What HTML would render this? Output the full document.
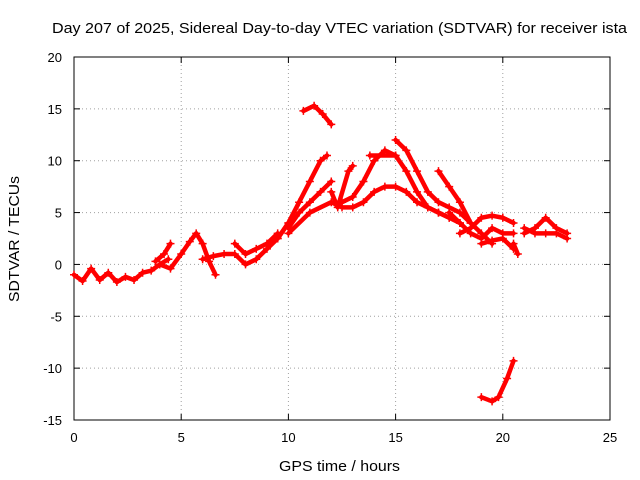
<!DOCTYPE html>
<html><head><meta charset="utf-8"><style>
body{margin:0;background:#fff}
svg{display:block;font-family:"Liberation Sans",sans-serif}
</style></head><body>
<svg id="chart" width="640" height="480">
<text x="339.5" y="33" font-size="15" text-anchor="middle" textLength="575" lengthAdjust="spacingAndGlyphs">Day 207 of 2025, Sidereal Day-to-day VTEC variation (SDTVAR) for receiver ista</text>
<text x="339.5" y="471" font-size="15" text-anchor="middle" textLength="121" lengthAdjust="spacingAndGlyphs">GPS time / hours</text>
<text transform="translate(19,239) rotate(-90)" font-size="15" text-anchor="middle" textLength="126" lengthAdjust="spacingAndGlyphs">SDTVAR / TECUs</text>
<g id="grid"></g><g id="axes"></g><g id="marks"></g>
</svg>
<script>
const xTicks=[0,5,10,15,25,20];
const yTicks=[-15,-10,-5,0,5,10,15,20];
const track1=[[0,-1],[0.4,-1.6],[0.8,-0.4],[1.2,-1.5],[1.6,-0.8],[2,-1.7],[2.4,-1.2],[2.8,-1.5],[3.2,-0.8],[3.6,-0.6],[4,0],[4.4,0.5]];
const track2=[[4,0],[4.5,-0.4],[5,1],[5.4,2.2],[5.7,3],[6,2],[6.3,0.3],[6.6,-1]];
const track3=[[3.8,0.3],[4.2,1],[4.5,2]];
const track4=[[6,0.5],[6.5,0.8],[7,1],[7.5,1],[8,0],[8.5,0.5],[9,1.5],[9.5,2.5],[10,4]];
const track5=[[7.5,2],[8,1],[8.5,1.5],[9,2],[9.5,3]];
const track6=[[9.5,2.5],[10,4],[10.5,6],[11,8],[11.5,10],[11.8,10.5]];
const track7=[[10,3.5],[10.5,5],[11,6],[11.5,7],[12,8]];
const track8=[[10,3],[11,5],[12,6],[12.5,5.5],[13,5.5],[13.5,6],[14,7],[14.5,7.5],[15,7.5],[15.5,7],[16,6],[16.5,5.5],[17,5],[17.5,4.5],[18,4]];
const track9=[[12,7],[12.3,5.5],[12.8,9],[13,9.5]];
const track10=[[12.5,6],[13,6.5],[13.5,8],[14,10],[14.5,11],[15,10.5]];
const track11=[[13.8,10.5],[15,10.5],[15.5,9],[16,7],[16.5,5.5],[17,5],[17.5,4.5]];
const track12=[[15,12],[15.5,11],[16,9],[16.5,7],[17,6],[17.5,5.5],[18,5],[18.5,4]];
const track13=[[17,9],[17.5,7.5],[18,6],[18.5,4],[19,3],[19.5,2]];
const track14=[[17.5,5],[18,4],[18.5,3],[19,2.5],[19.5,3.5],[20,3],[20.5,3]];
const track15=[[18,3],[18.5,3.5],[19,4.5],[19.5,4.7],[20,4.5],[20.5,4]];
const track16=[[19,2],[19.5,2.3],[20,2.5],[20.5,1.5]];
const track17=[[20.5,2],[20.7,1]];
const track18=[[21,3],[21.5,3.5],[22,4.5],[22.5,3.5],[23,3]];
const track19=[[21,3.5],[21.5,3],[22,3],[22.5,3],[23,2.5]];
const track20=[[10.7,14.8],[11.2,15.3],[11.6,14.5],[12,13.5]];
const track21=[[19,-12.8],[19.5,-13.2],[19.8,-12.8],[20.2,-11],[20.5,-9.3]];
const tracks=[track1,track2,track3,track4,track5,track6,track7,track8,track9,track10,track11,track12,track13,track14,track15,track16,track17,track18,track19,track20,track21];
const X0=74,X1=610,Y0=420,Y1=57;
const sx=v=>X0+(v-0)/25*(X1-X0);
const sy=v=>Y0-(v+15)/35*(Y0-Y1);
const NS="http://www.w3.org/2000/svg";
function mk(t,a,p){const e=document.createElementNS(NS,t);for(const k in a)e.setAttribute(k,a[k]);p.appendChild(e);return e;}
const grid=document.getElementById('grid'),axes=document.getElementById('axes'),marks=document.getElementById('marks');
xTicks.forEach(t=>{const x=sx(t);
 if(t>0&&t<25){const g=mk('line',{x1:x,x2:x,y1:Y1,y2:Y0,stroke:'#a0a0a0','stroke-dasharray':'1,3'},grid);
 
 }
 mk('line',{x1:x,x2:x,y1:Y0,y2:Y0-6,stroke:'#000'},axes);
 mk('line',{x1:x,x2:x,y1:Y1,y2:Y1+6,stroke:'#000'},axes);
 const l=mk('text',{x:x,y:Y0+22,'font-size':13,'text-anchor':'middle'},axes);l.textContent=t;
 
 });
yTicks.forEach(t=>{const y=sy(t);
 if(t>-15&&t<20){const g=mk('line',{x1:X0,x2:X1,y1:y,y2:y,stroke:'#a0a0a0','stroke-dasharray':'1,3'},grid);
 
 }
 mk('line',{x1:X0,x2:X0+6,y1:y,y2:y,stroke:'#000'},axes);
 mk('line',{x1:X1,x2:X1-6,y1:y,y2:y,stroke:'#000'},axes);
 const l=mk('text',{x:X0-12,y:y+5,'font-size':13,'text-anchor':'end'},axes);l.textContent=t;
 
 });
const fr=mk('rect',{x:X0,y:Y1,width:X1-X0,height:Y0-Y1,fill:'none',stroke:'#000'},axes);


tracks.forEach(tr=>{
 const pl=mk('polyline',{points:tr.map(p=>sx(p[0])+','+sy(p[1])).join(' '),fill:'none',stroke:'#f00','stroke-width':4.5,'stroke-linejoin':'round','stroke-linecap':'round'},marks);
 
 
 tr.forEach(p=>{const x=sx(p[0]),y=sy(p[1]);
  const m=mk('path',{d:`M${x-4},${y}H${x+4}M${x},${y-4}V${y+4}`,stroke:'#f00','stroke-width':1.5},marks);
  
  });
});
</script>
</body></html>
